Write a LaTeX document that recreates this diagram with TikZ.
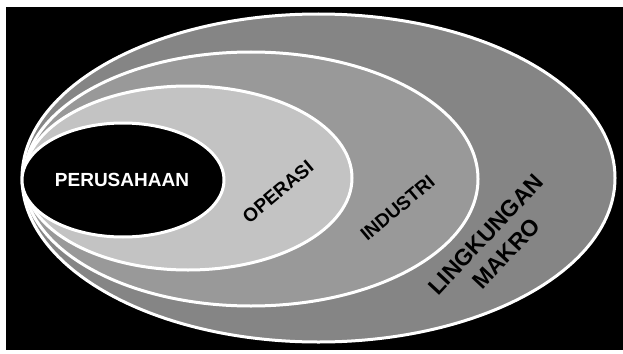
\documentclass[tikz,border=0pt]{standalone}
\usepackage{fontspec}
\setmainfont{Liberation Sans}
\begin{document}
\begin{tikzpicture}[x=1pt,y=-1pt,
  ring/.style={draw=white,line width=3pt},
  lbl/.style={font=\bfseries\fontsize{19}{22}\selectfont,inner sep=0pt}]
  \definecolor{makro}{gray}{0.52}
  \definecolor{industri}{gray}{0.60}
  \definecolor{operasi}{gray}{0.765}
  % canvas and dark panel
  \fill[white] (0,0) rectangle (623,353);
  \useasboundingbox (0,0) rectangle (623,353);
  \fill[black] (6,7) rectangle (623,350);
  % nested environments, outermost first
  \path[ring,fill=makro]    (318.5,178) ellipse [x radius=296.5pt,y radius=164pt];
  \path[ring,fill=industri] (251,179)   ellipse [x radius=227pt,y radius=127pt];
  \path[ring,fill=operasi]  (188,178)   ellipse [x radius=164pt,y radius=92pt];
  \path[ring,fill=black]    (123,180)   ellipse [x radius=101pt,y radius=57pt];
  % labels
  \node[lbl,text=white] (perusahaan) at (122,180) {PERUSAHAAN};
  \node[lbl,rotate=40] (operasi) at (278,192) {OPERASI};
  \node[lbl,rotate=40] (industri) at (397.5,208) {INDUSTRI};
  \node[lbl,rotate=47,align=center,font=\bfseries\fontsize{23}{28}\selectfont] (makro) at (496,244) {LINGKUNGAN\\MAKRO};
\end{tikzpicture}
\end{document}
